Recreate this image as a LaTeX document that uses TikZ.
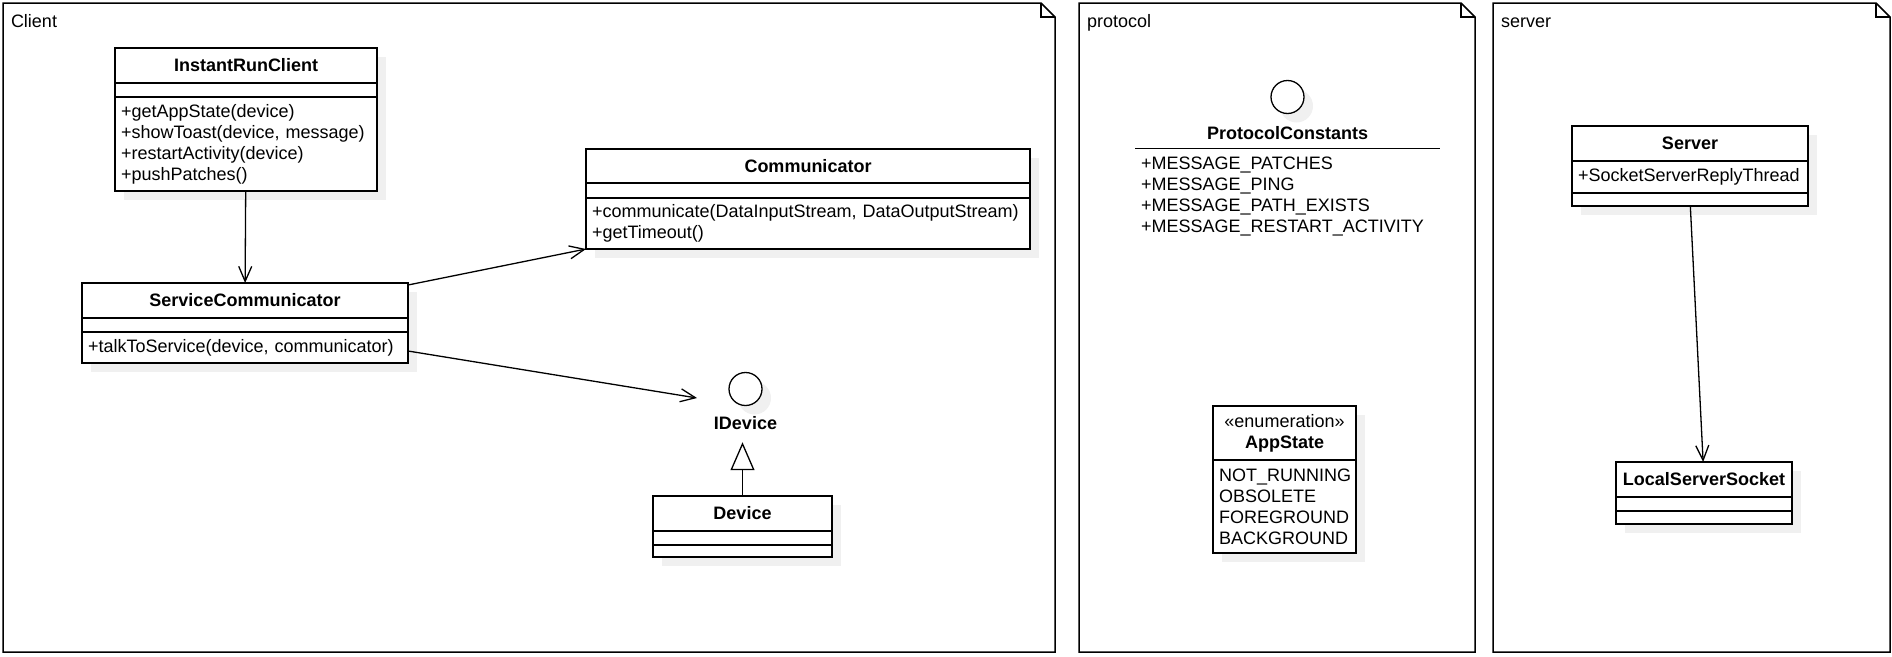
\documentclass[tikz,border=0pt]{standalone}
\usepackage{fontspec}
\setmainfont{Liberation Sans}
\usetikzlibrary{arrows.meta, positioning, shadows}

\begin{document}
\begin{tikzpicture}[x=1pt, y=-1pt, line width=1.3pt, node distance=0pt,
    every node/.style={font=\fontsize{18}{21}\selectfont, inner sep=0pt, outer sep=0pt},
    compart/.style={draw, fill=white, general shadow={fill=black!6, shadow xshift=9pt, shadow yshift=-9pt}},
    members/.style={compart, align=left, inner xsep=6pt},
    pkg/.style={line width=1.5pt},
    assoc/.style={-{Straight Barb[length=15pt, width=13pt]}},
    realize/.style={-{Triangle[open, length=28pt, width=24pt]}, shorten >=12.5pt}]
  \useasboundingbox (0,0) rectangle (1892,656);
  \foreach \l/\r/\lbl in {3/1055/Client, 1079/1475/protocol, 1493/1890/server}{
    \draw[pkg] (\l,3) -- (\r-14,3) -- (\r,17) -- (\r,652) -- (\l,652) -- cycle;
    \draw[pkg] (\r-14,3) |- (\r,17);
    \node[anchor=base west] (\lbl-label) at (\l+8,27) {\lbl};
  }

  \node[compart, minimum width=262pt, minimum height=35pt, anchor=north west] (irc) at (115,48) {\textbf{InstantRunClient}};
  \node[compart, minimum width=262pt, minimum height=14pt, below=of irc] (irc-attr) {};
  \node[members, text width=250pt, minimum height=94pt, below=of irc-attr] (irc-ops)
    {+getAppState(device)\\+showToast(device, message)\\+restartActivity(device)\\+pushPatches()};

  \node[compart, minimum width=326pt, minimum height=35pt, anchor=north west] (sc) at (82,283) {\textbf{ServiceCommunicator}};
  \node[compart, minimum width=326pt, minimum height=14pt, below=of sc] (sc-attr) {};
  \node[members, text width=314pt, minimum height=31pt, below=of sc-attr] (sc-ops) {+talkToService(device, communicator)};

  \node[compart, minimum width=444pt, minimum height=34pt, anchor=north west] (comm) at (586,149) {\textbf{Communicator}};
  \node[compart, minimum width=444pt, minimum height=15pt, below=of comm] (comm-attr) {};
  \node[members, text width=432pt, minimum height=51pt, below=of comm-attr] (comm-ops)
    {+communicate(DataInputStream, DataOutputStream)\\+getTimeout()};

  \node[compart, circle, minimum size=33pt] (idev-icon) at (745.5,389) {};
  \node[below=11pt of idev-icon] (idev) {\textbf{IDevice}};
  \coordinate (idev-in) at (697,398);

  \node[compart, minimum width=179pt, minimum height=35pt, anchor=north west] (dev) at (653,496) {\textbf{Device}};
  \node[compart, minimum width=179pt, minimum height=14pt, below=of dev] (dev-attr) {};
  \node[compart, minimum width=179pt, minimum height=12pt, below=of dev-attr] (dev-ops) {};

  \node[compart, circle, minimum size=33pt] (pc-icon) at (1287.5,97) {};
  \node[below=13pt of pc-icon] (pc) {\textbf{ProtocolConstants}};
  \node[align=left, text width=293pt, inner xsep=6pt, inner ysep=9pt, below=8.5pt of pc] (pc-vals)
    {+MESSAGE\_PATCHES\\+MESSAGE\_PING\\+MESSAGE\_PATH\_EXISTS\\+MESSAGE\_RESTART\_ACTIVITY};
  \draw (pc-vals.north west) -- (pc-vals.north east);

  \node[compart, align=center, minimum width=143pt, minimum height=54pt, anchor=north west] (app) at (1213,406)
    {«enumeration»\\\textbf{AppState}};
  \node[members, text width=131pt, minimum height=93pt, below=of app] (app-vals)
    {NOT\_RUNNING\\OBSOLETE\\FOREGROUND\\BACKGROUND};

  \node[compart, minimum width=236pt, minimum height=35pt, anchor=north west] (srv) at (1572,126) {\textbf{Server}};
  \node[members, text width=224pt, minimum height=32pt, below=of srv] (srv-attr) {+SocketServerReplyThread};
  \node[compart, minimum width=236pt, minimum height=13pt, below=of srv-attr] (srv-ops) {};

  \node[compart, minimum width=176pt, minimum height=35pt, anchor=north west] (lss) at (1616,462) {\textbf{LocalServerSocket}};
  \node[compart, minimum width=176pt, minimum height=14pt, below=of lss] (lss-attr) {};
  \node[compart, minimum width=176pt, minimum height=13pt, below=of lss-attr] (lss-ops) {};

  \draw[assoc] (irc-ops) -- (sc);
  \draw[assoc] ([yshift=-2pt]sc.north east) -- (comm-ops.south west);
  \draw[assoc] ([yshift=-3.5pt]sc-ops.east) -- (idev-in);
  \draw[realize] (dev) -- (dev |- idev.south);
  \draw[assoc] (srv-ops) -- (lss);
\end{tikzpicture}
\end{document}
